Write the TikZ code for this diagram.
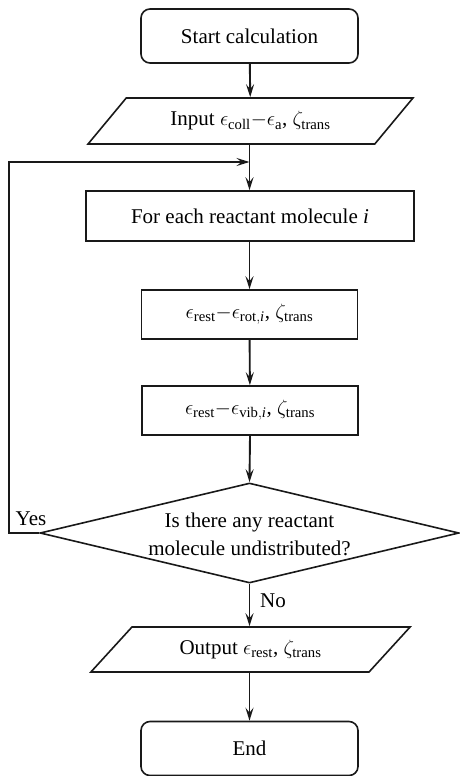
\documentclass[tikz,border=0pt]{standalone}
\usepackage{fontspec}
\setmainfont{Liberation Serif}
\usetikzlibrary{shapes.geometric,arrows.meta}
\begin{document}
\begin{tikzpicture}[x=1pt,y=-1pt,
  every node/.style={font=\fontsize{21}{28}\selectfont, text=black},
  line/.style={line width=1.9pt, draw=black!90},
  arr/.style={line, -{Stealth[length=13pt,width=8pt,inset=5pt]}},
  roundbox/.style={draw=black!90, line width=1.6pt, rounded corners=9pt, minimum width=217pt, minimum height=54pt, inner sep=0pt},
  stepbox/.style={draw=black!90, line width=1.6pt, minimum height=49pt, inner sep=0pt},
  para/.style={draw=black!90, line width=1.6pt, trapezium, trapezium stretches=true, trapezium left angle=37.5, trapezium right angle=142.5, inner sep=0pt, minimum height=46pt},
  decis/.style={draw=black!90, line width=1.6pt, diamond, minimum width=419pt, minimum height=100pt, inner sep=0pt},
]
\useasboundingbox (0,0) rectangle (460,776);
\node[roundbox] (start) at (249.5,36) {Start calculation};
\node[para, minimum width=325pt] (in) at (250.5,121) {Input $\epsilon_{\mathrm{coll}}{-}\epsilon_{\mathrm{a}}$, $\zeta_{\mathrm{trans}}$};
\node[stepbox, minimum width=328pt, minimum height=50pt] (each) at (250,216) {For each reactant molecule \textit{i}};
\node[stepbox, minimum width=216pt] (rot) at (249.5,314.5) {$\epsilon_{\mathrm{rest}}{-}\epsilon_{\mathrm{rot},\mathit{i}}$, $\zeta_{\mathrm{trans}}$};
\node[stepbox, minimum width=216pt] (vib) at (250,410.5) {$\epsilon_{\mathrm{rest}}{-}\epsilon_{\mathrm{vib},\mathit{i}}$, $\zeta_{\mathrm{trans}}$};
\node[decis] (dec) at (249.5,533) {};
\node[align=center] (dectext) at (249.5,534) {Is there any reactant\\molecule undistributed?};
\node[para, minimum width=320pt, minimum height=45pt] (out) at (250.5,649.5) {Output $\epsilon_{\mathrm{rest}}$, $\zeta_{\mathrm{trans}}$};
\node[roundbox] (end) at (249.5,748.5) {End};
\coordinate (join) at (249.5,162);
\coordinate (c1) at (9,533);
\coordinate (c2) at (9,162);
\draw[arr] (start) -- (in);
\draw[arr] (in.south -| join) -- (each.north -| join);
\draw[arr] (each.south -| rot) -- (rot.north);
\draw[arr] (rot) -- (vib);
\draw[arr] (vib.south) -- (dec.north);
\draw[arr] (dec.west) -- (c1) -- (c2) -- (join);
\node (yes) at (31,519) {Yes};
\draw[arr] (dec.south) -- (out.north -| dec.south);
\node (no) at (273,601) {No};
\draw[arr] (out.south -| end) -- (end.north);
\end{tikzpicture}
\end{document}
